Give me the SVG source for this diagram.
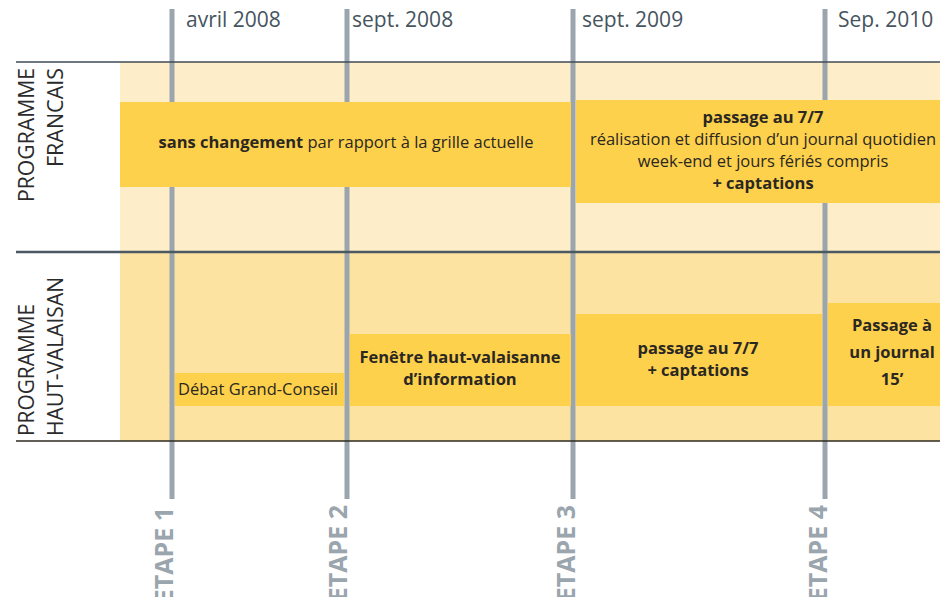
<svg xmlns="http://www.w3.org/2000/svg" width="940" height="597" viewBox="0 0 940 597">
<style>
  .t{font-family:"Open Sans","Liberation Sans",sans-serif;fill:#2b2722;font-size:16.5px}
  .b{font-weight:bold}
  .c{text-anchor:middle}
  .date{font-family:"Open Sans","Liberation Sans",sans-serif;fill:#46545e;font-size:21px}
  .row{font-family:"Open Sans","Liberation Sans",sans-serif;fill:#2b2b2b;font-size:22px}
  .etape{font-family:"Open Sans","Liberation Sans",sans-serif;fill:#9aa5ae;font-size:25px;font-weight:bold;text-anchor:end}
  .vl{stroke:#9aa5ae;stroke-width:5}
  .box{fill:#fdd14c}
</style>
<rect width="940" height="597" fill="#ffffff"/>
<g id="backgrounds">
  <rect x="120" y="62" width="820" height="190" fill="#fdedc8"/>
  <rect x="120" y="252" width="820" height="189" fill="#fde3a1"/>
</g>
<g id="connectors">
  <line class="vl" x1="172" y1="9" x2="172" y2="499"/>
  <line class="vl" x1="347" y1="9" x2="347" y2="499"/>
  <line class="vl" x1="573" y1="9" x2="573" y2="499"/>
  <line class="vl" x1="825" y1="9" x2="825" y2="499"/>
  <line x1="16" y1="62" x2="940" y2="62" stroke="#3f4b55" stroke-width="1.5"/>
  <line x1="16" y1="252" x2="940" y2="252" stroke="#4b5963" stroke-width="2.5"/>
  <line x1="16" y1="441" x2="940" y2="441" stroke="#2e2a20" stroke-width="1.5"/>
</g>
<g id="dates">
  <text class="date" x="186" y="27">avril 2008</text>
  <text class="date" x="352" y="27">sept. 2008</text>
  <text class="date" x="582" y="27">sept. 2009</text>
  <text class="date" x="838" y="27">Sep. 2010</text>
</g>
<g id="row-labels">
  <text class="row" transform="translate(34,68) rotate(-90)" text-anchor="end" textLength="134" lengthAdjust="spacingAndGlyphs">PROGRAMME</text>
  <text class="row" transform="translate(63,68) rotate(-90)" text-anchor="end" textLength="99" lengthAdjust="spacingAndGlyphs">FRANCAIS</text>
  <text class="row" transform="translate(34,436) rotate(-90)" textLength="132" lengthAdjust="spacingAndGlyphs">PROGRAMME</text>
  <text class="row" transform="translate(63,436) rotate(-90)" textLength="159" lengthAdjust="spacingAndGlyphs">HAUT-VALAISAN</text>
</g>
<g id="node-fr-1">
  <rect class="box" x="120" y="102" width="451" height="85"/>
  <text class="t c" x="346" y="148"><tspan class="b">sans changement</tspan> par rapport à la grille actuelle</text>
</g>
<g id="node-fr-2">
  <rect class="box" x="576" y="100" width="364" height="103"/>
  <text class="t c" x="763" y="123"><tspan class="b">passage au 7/7</tspan></text>
  <text class="t c" x="763" y="145">réalisation et diffusion d’un journal quotidien</text>
  <text class="t c" x="763" y="167">week-end et jours fériés compris</text>
  <text class="t c b" x="763" y="189">+ captations</text>
</g>
<g id="node-hv-1">
  <rect class="box" x="175" y="373" width="169" height="33"/>
  <text class="t" x="178" y="395">Débat Grand-Conseil</text>
</g>
<g id="node-hv-2">
  <rect class="box" x="350" y="334" width="221" height="72"/>
  <text class="t c b" x="460" y="363">Fenêtre haut-valaisanne</text>
  <text class="t c b" x="460" y="385">d’information</text>
</g>
<g id="node-hv-3">
  <rect class="box" x="576" y="314" width="246" height="92"/>
  <text class="t c b" x="698" y="354">passage au 7/7</text>
  <text class="t c b" x="698" y="376">+ captations</text>
</g>
<g id="node-hv-4">
  <rect class="box" x="828" y="303" width="112" height="103"/>
  <text class="t c b" x="892" y="331">Passage à</text>
  <text class="t c b" x="892" y="358">un journal</text>
  <text class="t c b" x="892" y="385">15’</text>
</g>
<g id="etapes">
  <text class="etape" transform="translate(173,507) rotate(-90)">ETAPE 1</text>
  <text class="etape" transform="translate(347,505) rotate(-90)">ETAPE 2</text>
  <text class="etape" transform="translate(575,505) rotate(-90)">ETAPE 3</text>
  <text class="etape" transform="translate(827,505) rotate(-90)">ETAPE 4</text>
</g>
</svg>
